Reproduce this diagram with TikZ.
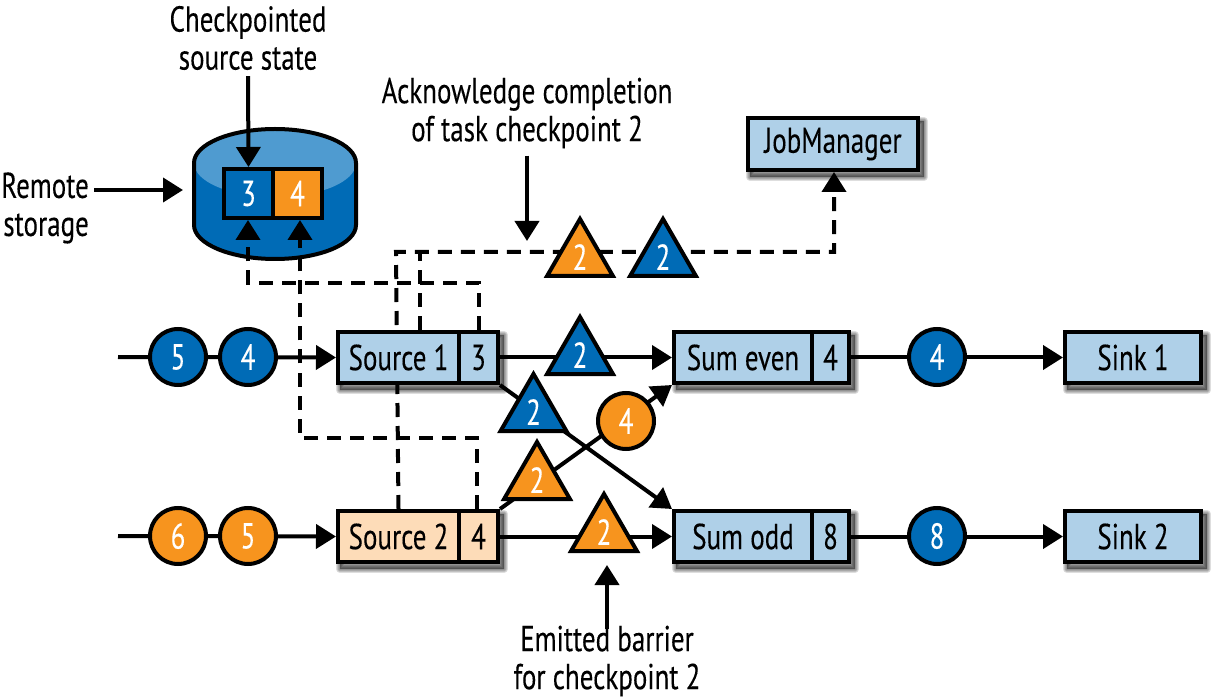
\documentclass[tikz,border=0pt]{standalone}
\usepackage{fontspec}
\setmainfont[FakeStretch=0.75,FakeBold=0.2]{PT Sans}
\usetikzlibrary{arrows.meta,shapes.geometric}
\definecolor{bluefill}{RGB}{0,107,182}
\definecolor{orangefill}{RGB}{247,148,30}
\definecolor{lightbox}{RGB}{175,208,232}
\definecolor{peachbox}{RGB}{253,220,184}
\definecolor{cyltop}{RGB}{79,155,208}
\pgfdeclarelayer{cyl}\pgfdeclarelayer{conn}\pgfdeclarelayer{shad}
\pgfsetlayers{cyl,conn,shad,main}
\tikzset{
  lw/.style={line width=4pt},
  txt/.style={font=\fontsize{36}{38}\selectfont,inner sep=0pt,align=center,text=black},
  cell/.style={lw,draw=black,font=\fontsize{36}{38}\selectfont,inner sep=0pt,minimum height=51pt},
  blue cell/.style={cell,fill=lightbox},
  peach cell/.style={cell,fill=peachbox},
  store/.style={lw,draw=black,font=\fontsize{36}{38}\selectfont,text=white,inner sep=0pt,minimum width=49pt,minimum height=49pt},
  disc/.style={circle,lw,draw=black,font=\fontsize{36}{38}\selectfont,text=white,inner sep=0pt,minimum size=56pt},
  tri/.style={regular polygon,regular polygon sides=3,lw,draw=black,font=\fontsize{36}{38}\selectfont,text=white,inner sep=0pt,minimum size=76pt,miter limit=10},
  link/.style={lw,-{Triangle[length=20pt,width=24pt]}},
  dashlink/.style={lw,dash pattern=on 14pt off 9pt,line join=miter},
}
\newcommand{\softshadow}[2]{%
  \begin{pgfonlayer}{shad}
  \foreach \w in {8,6,4,2}{
    \draw[black,fill=black,opacity=.13,line width=\w pt,line join=round]
      ([shift={(4pt,-5pt)}]#1.north west) rectangle ([shift={(4pt,-5pt)}]#2.south east);
  }
  \end{pgfonlayer}}
\begin{document}
\begin{tikzpicture}[x=1pt,y=-1pt]
\useasboundingbox (0,0) rectangle (1231,700);
% cylinder
\begin{pgfonlayer}{cyl}
  \path[fill=bluefill] (194,163) -- (194,225) arc[start angle=180,end angle=0,x radius=81,y radius=34] -- (356,163) arc[start angle=0,end angle=-180,x radius=81,y radius=34] -- cycle;
  \fill[cyltop] (275,163) ellipse[x radius=81,y radius=34];
  \draw[lw] (194,163) -- (194,225) arc[start angle=180,end angle=0,x radius=81,y radius=34] -- (356,163) arc[start angle=0,end angle=-180,x radius=81,y radius=34] -- cycle;
\end{pgfonlayer}
% boxes
\node[store,fill=bluefill] (b3) at (248.5,193.5) {3};
\node[store,fill=orangefill] (b4) at (297.5,193.5) {4};
\node[blue cell,minimum width=170pt,minimum height=52pt] (jm) at (833,144) {JobManager};
\softshadow{jm}{jm}
\node[blue cell,minimum width=121pt] (s1) at (398.5,357.5) {Source 1};
\node[blue cell,minimum width=39pt] (s1c) at (478.5,357.5) {3};
\softshadow{s1}{s1c}
\node[peach cell,minimum width=121pt] (s2) at (398.5,536.5) {Source 2};
\node[peach cell,minimum width=39pt] (s2c) at (478.5,536.5) {4};
\softshadow{s2}{s2c}
\node[blue cell,minimum width=138pt] (se) at (743,357.5) {Sum even};
\node[blue cell,minimum width=37pt] (sec) at (830.5,357.5) {4};
\softshadow{se}{sec}
\node[blue cell,minimum width=138pt] (so) at (743,536.5) {Sum odd};
\node[blue cell,minimum width=37pt] (soc) at (830.5,536.5) {8};
\softshadow{so}{soc}
\node[blue cell,minimum width=136pt] (k1) at (1133,357.5) {Sink 1};
\softshadow{k1}{k1}
\node[blue cell,minimum width=136pt] (k2) at (1133,536.5) {Sink 2};
\softshadow{k2}{k2}
% discs
\node[disc,fill=bluefill] (m5) at (178,357) {5};
\node[disc,fill=bluefill] (m4) at (248,357) {4};
\node[disc,fill=orangefill] (n6) at (178,536) {6};
\node[disc,fill=orangefill] (n5) at (248,536) {5};
\node[disc,fill=orangefill] (x4) at (626,421) {4};
\node[disc,fill=bluefill] (o4) at (937,357) {4};
\node[disc,fill=bluefill] (o8) at (937,536) {8};
% triangles
\node[tri,fill=orangefill] (ta) at (580,257) {2};
\node[tri,fill=bluefill] (tb) at (663,257) {2};
\node[tri,fill=bluefill] (t1) at (580,355) {2};
\node[tri,fill=bluefill] (t2) at (533.5,412) {2};
\node[tri,fill=orangefill] (t3) at (537,480) {2};
\node[tri,fill=orangefill] (t4) at (604,532) {2};
% labels
\node[txt] (lck) at (248,38) {Checkpointed\\source state};
\node[txt,align=right,anchor=east] (lrs) at (89,208) {Remote\\storage};
\node[txt] (lak) at (527,113) {Acknowledge completion\\of task checkpoint 2};
\node[txt] (lem) at (607,661) {Emitted barrier\\for checkpoint 2};
% free ends
\coordinate (in1) at (118,357);
\coordinate (in2) at (118,536);
\coordinate (rsfrom) at (94,190);
\coordinate (rsto) at (183,190);
\coordinate (akto) at (527,241);
\coordinate (emto) at (607,565);
\coordinate (c3) at (248,283);
\coordinate (c4) at (300,438);
\coordinate (cj) at (396,252);
\coordinate (cm) at (834,252);
\coordinate (cs) at (420,252);
\begin{pgfonlayer}{conn}
  \draw[link] (in1) -- (s1.west);
  \draw[link] (in2) -- (s2.west);
  \draw[link] (s1c.east) -- (se.west);
  \draw[link] (s2c.east) -- (so.west);
  \draw[link] (sec.east) -- (k1.west);
  \draw[link] (soc.east) -- (k2.west);
  \draw[link] (s1c.south east) -- (so.north west);
  \draw[link] (s2c.north east) -- (se.south west);
  \draw[link] ([yshift=-6pt]lck.south) -- (b3.north);
  \draw[link] (rsfrom) -- (rsto);
  \draw[link] ([yshift=-7pt]lak.south) -- (akto);
  \draw[link] ([yshift=-4pt]lem.north) -- (emto);
  \draw[dashlink] (s2.north) -- (cj) -- (cm) -- ([yshift=-20pt]jm.south-|cm);
  \draw[link] ([yshift=-18pt]jm.south-|cm) -- (jm.south-|cm);
  \draw[dashlink] (s1.north-|cs) -- (cs);
  \draw[dashlink] (s1c.north) |- (c3) -- ([yshift=-20pt]b3.south-|c3);
  \draw[link] ([yshift=-18pt]b3.south-|c3) -- (b3.south-|c3);
  \draw[dashlink] ([xshift=-2pt]s2c.north) |- (c4) -- ([yshift=-20pt]b4.south-|c4);
  \draw[link] ([yshift=-18pt]b4.south-|c4) -- (b4.south-|c4);
\end{pgfonlayer}
\end{tikzpicture}
\end{document}
